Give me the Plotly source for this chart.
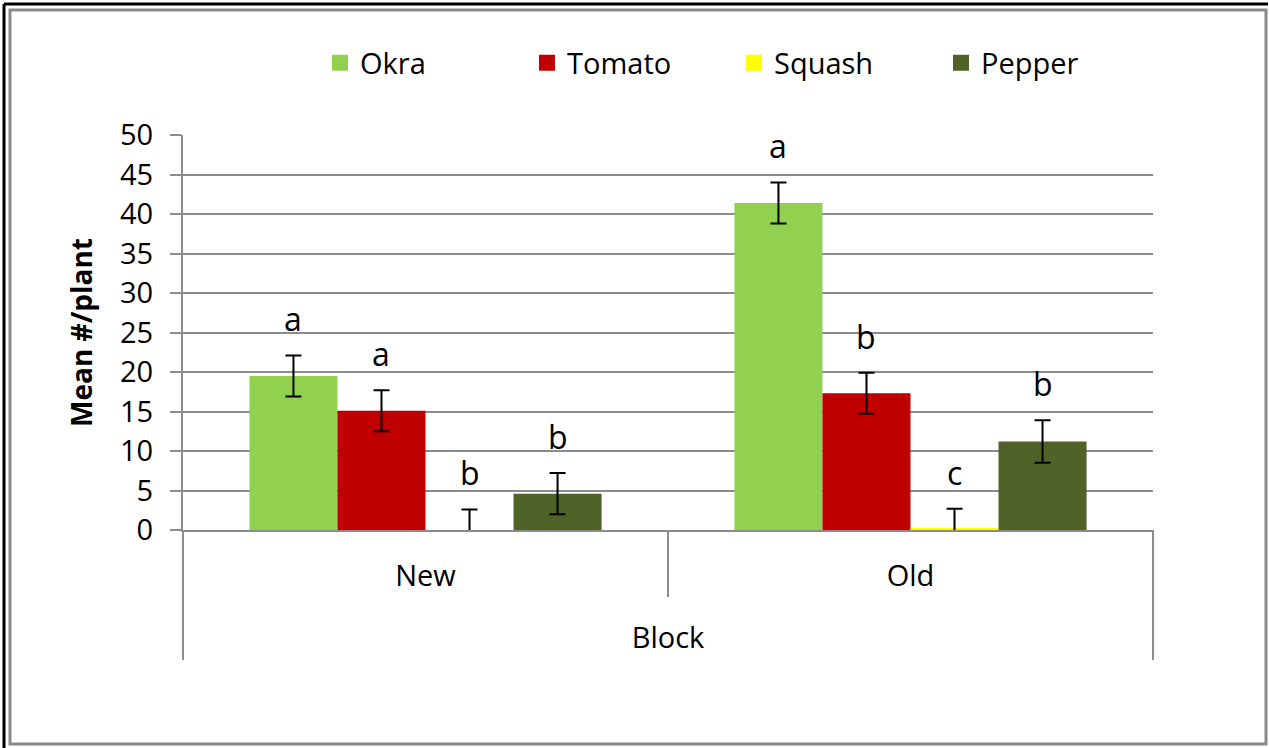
import plotly.graph_objects as go

blocks = ["New", "Old"]
crops = ["Okra", "Tomato", "Squash", "Pepper"]
colors = ["#92D050", "#C00000", "#FFFF00", "#4F6228"]

okra = [19.5, 41.4]
tomato = [15.1, 17.3]
squash = [0.0, 0.2]
pepper = [4.6, 11.2]
values = [okra, tomato, squash, pepper]

okra_se = [2.6, 2.6]
tomato_se = [2.6, 2.6]
squash_se = [2.6, 2.5]
pepper_se = [2.6, 2.7]
errors = [okra_se, tomato_se, squash_se, pepper_se]

okra_letters = ["a", "a"]
tomato_letters = ["a", "b"]
squash_letters = ["b", "c"]
pepper_letters = ["b", "b"]
letters = [okra_letters, tomato_letters, squash_letters, pepper_letters]

FONT = "Open Sans"
GRID = "#8c8c8c"
BARGAP = 0.274

fig = go.Figure()
for name, vals, errs, col in zip(crops, values, errors, colors):
    fig.add_trace(go.Bar(
        x=blocks, y=vals, name=name, legendgroup=name, showlegend=False,
        marker=dict(color=col, line=dict(width=0)),
        error_y=dict(type="data", array=errs, visible=True, color="black",
                     thickness=2, width=8),
    ))
# legend entries with larger square swatches
for name, col in zip(crops, colors):
    fig.add_trace(go.Scatter(
        x=[None], y=[None], name=name, legendgroup=name, mode="markers",
        marker=dict(symbol="square", size=16, color=col), showlegend=True,
    ))

# significance letters above error bars
n = len(crops)
w = (1 - BARGAP) / n
for k in range(n):
    for i in range(len(blocks)):
        fig.add_annotation(
            x=i + (k - (n - 1) / 2) * w, y=values[k][i] + errors[k][i],
            xref="x", yref="y", text=letters[k][i], showarrow=False,
            yanchor="bottom", yshift=13, font=dict(family=FONT, size=32, color="black"),
        )

L, R, T, B = 183, 1153, 135, 530
PW, PH = R - L, B - T
def px(x):
    return (x - L) / PW
def py(y):
    return (B - y) / PH

shapes = []
# category separators
for xx, yb in [(L, 660), ((L + R) / 2, 597), (R, 660)]:
    shapes.append(dict(type="line", xref="paper", yref="paper", x0=px(xx), x1=px(xx),
                       y0=0, y1=py(yb), line=dict(color=GRID, width=2)))
# chart frame
shapes.append(dict(type="rect", xref="paper", yref="paper", x0=px(10), x1=px(1266),
                   y0=py(744), y1=py(10), line=dict(color="#8a8a8a", width=3)))
shapes.append(dict(type="line", xref="paper", yref="paper", x0=px(4), x1=px(1268),
                   y0=py(4), y1=py(4), line=dict(color="black", width=3)))
shapes.append(dict(type="line", xref="paper", yref="paper", x0=px(4), x1=px(4),
                   y0=py(4), y1=py(748), line=dict(color="black", width=3)))

fig.update_layout(
    width=1269, height=748,
    margin=dict(l=L, r=1269 - R, t=T, b=748 - B, autoexpand=False),
    paper_bgcolor="white", plot_bgcolor="white",
    barmode="group", bargap=BARGAP, bargroupgap=0,
    font=dict(family=FONT, size=29, color="black"),
    showlegend=True,
    legend=dict(orientation="h", x=px(320), xanchor="left", y=py(63), yanchor="middle",
                entrywidth=162, entrywidthmode="pixels", font=dict(size=29),
                traceorder="normal", bgcolor="rgba(0,0,0,0)"),
    shapes=shapes,
    xaxis=dict(type="category", showline=True, linecolor=GRID, linewidth=2,
               ticks="", ticklabelstandoff=19, showgrid=False,
               tickfont=dict(size=29),
               title=dict(text="Block", font=dict(size=29), standoff=35)),
    yaxis=dict(range=[0, 50], dtick=5, showline=True, linecolor=GRID, linewidth=2,
               ticks="outside", ticklen=11, tickwidth=2, tickcolor=GRID,
               showgrid=True, gridcolor=GRID, gridwidth=2, zeroline=False,
               tickfont=dict(size=29), ticklabelstandoff=11,
               title=dict(text="<b>Mean #/plant</b>", font=dict(size=28), standoff=19)),
)

fig.write_html("out.html", config={"displayModeBar": False},
               post_script="document.body.style.margin='0';")
